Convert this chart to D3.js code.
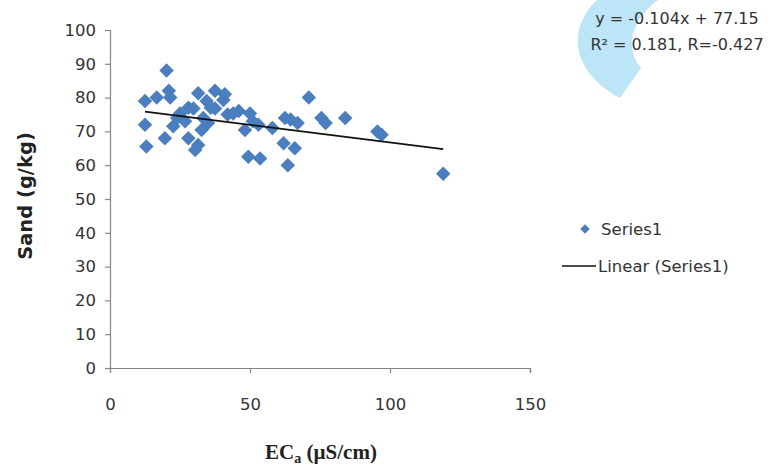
<!DOCTYPE html>
<html><head><meta charset="utf-8">
<script src="https://cdn.jsdelivr.net/npm/d3@7"></script>
<style>body{margin:0;background:#fff}svg{display:block}</style>
</head><body>
<svg id="chart" width="779" height="472"></svg>
<script>
// ---- data ----
const ecValues   = [12.5, 12.5, 13, 16.7, 20.2, 19.6, 21, 21.5, 22.6, 24, 25, 26.8, 28, 28, 29.8, 30.4, 31.5, 31.5, 32.7, 33.3, 34.5, 35, 36, 37.5, 37.5, 40.5, 41, 42, 44, 46, 48.2, 50, 49.4, 51, 53, 53.6, 58, 62.5, 62, 63.5, 64.5, 66, 67, 71, 75.5, 77, 84, 95.5, 97, 119];
const sandValues = [79, 72, 65.5, 80, 88, 68, 82, 80, 71.5, 74, 75.3, 73, 77, 68, 76.8, 64.5, 81.3, 66, 70.4, 74, 79, 72.5, 77, 82, 76.8, 79.3, 81, 75, 75.3, 76, 70.4, 75.3, 62.5, 73, 72, 62, 71, 74, 66.5, 60, 73.5, 65, 72.5, 80, 74, 72.5, 74, 70, 69, 57.5];
const xTickValues = [0, 50, 100, 150];
const yTickValues = [0, 10, 20, 30, 40, 50, 60, 70, 80, 90, 100];
const trendSlope = -0.104;
const trendIntercept = 77.15;
const equationLines = ["y = -0.104x + 77.15", "R\u00B2 = 0.181, R=-0.427"];
const legendLabels = ["Series1", "Linear (Series1)"];
const xTitle = "EC";
const xTitleSub = "a";
const xTitleRest = " (\u00B5S/cm)";
const yTitle = "Sand (g/kg)";

// ---- drawing ----
const svg = d3.select("#chart");
const x = d3.scaleLinear().domain([0, 150]).range([110, 530]);
const y = d3.scaleLinear().domain([0, 100]).range([368, 30]);
const axisColor = "#868686";
const pointColor = "#4a7ebe";
const textColor = "#333";

// decorative watermark arc
svg.append("path")
  .attr("d", "M597,0 C566,30 572,72 620,98 L641,68 C625,50 630,20 658,0 Z")
  .attr("fill", "#bce5f7");

// axes
const xAxis = d3.axisBottom(x).tickValues(xTickValues).tickSize(5).tickPadding(25).tickFormat(d3.format("d"));
const yAxis = d3.axisLeft(y).tickValues(yTickValues).tickSize(5).tickPadding(9).tickFormat(d3.format("d"));

const gx = svg.append("g").attr("transform", `translate(0,${y(0)})`).call(xAxis);
const gy = svg.append("g").attr("transform", `translate(${x(0)},0)`).call(yAxis);
[gx, gy].forEach(g => {
  g.select(".domain").attr("stroke", axisColor).attr("stroke-width", 1.2);
  g.selectAll(".tick line").attr("stroke", axisColor).attr("stroke-width", 1.2);
  g.selectAll(".tick text").attr("fill", textColor)
    .style("font-family", "'DejaVu Sans', sans-serif").style("font-size", "16.5px");
});

// points
const pts = ecValues.map((v, i) => ({ ec: v, sand: sandValues[i] }));
const diamond = d3.symbol().type(d3.symbolSquare).size(105);
svg.append("g").selectAll("path").data(pts).join("path")
  .attr("d", diamond)
  .attr("transform", d => `translate(${x(d.ec)},${y(d.sand)}) rotate(45)`)
  .attr("fill", pointColor);

// trend line
const [xmin, xmax] = d3.extent(ecValues);
svg.append("line")
  .attr("x1", x(xmin)).attr("y1", y(trendSlope * xmin + trendIntercept))
  .attr("x2", x(xmax)).attr("y2", y(trendSlope * xmax + trendIntercept))
  .attr("stroke", "#111").attr("stroke-width", 1.7);

// equation
svg.append("g").selectAll("text").data(equationLines).join("text")
  .attr("x", 677).attr("y", (d, i) => 24 + i * 26)
  .attr("text-anchor", "middle")
  .attr("fill", textColor)
  .style("font-family", "'DejaVu Sans', sans-serif").style("font-size", "16px")
  .text(d => d);

// legend
const leg = svg.append("g");
leg.append("path").attr("d", d3.symbol().type(d3.symbolSquare).size(45))
  .attr("transform", "translate(585,229) rotate(45)").attr("fill", pointColor);
leg.append("text").attr("x", 601).attr("y", 235).text(legendLabels[0]);
leg.append("line").attr("x1", 562).attr("x2", 596).attr("y1", 266).attr("y2", 266)
  .attr("stroke", "#111").attr("stroke-width", 1.7);
leg.append("text").attr("x", 598).attr("y", 272).text(legendLabels[1]);
leg.selectAll("text").attr("fill", textColor)
  .style("font-family", "'DejaVu Sans', sans-serif").style("font-size", "16.5px");

// axis titles
const xt = svg.append("text").attr("x", 321).attr("y", 459).attr("text-anchor", "middle")
  .attr("fill", "#222")
  .style("font-family", "'Liberation Serif', 'Times New Roman', serif")
  .style("font-size", "21px").style("font-weight", "bold");
xt.append("tspan").text(xTitle);
xt.append("tspan").attr("dy", 4).style("font-size", "14px").text(xTitleSub);
xt.append("tspan").attr("dy", -4).text(xTitleRest);

svg.append("text")
  .attr("transform", "translate(32,196) rotate(-90)")
  .attr("text-anchor", "middle")
  .attr("fill", "#222")
  .style("font-family", "'DejaVu Sans', sans-serif")
  .style("font-size", "19.5px").style("font-weight", "bold")
  .text(yTitle);
</script>
</body></html>
